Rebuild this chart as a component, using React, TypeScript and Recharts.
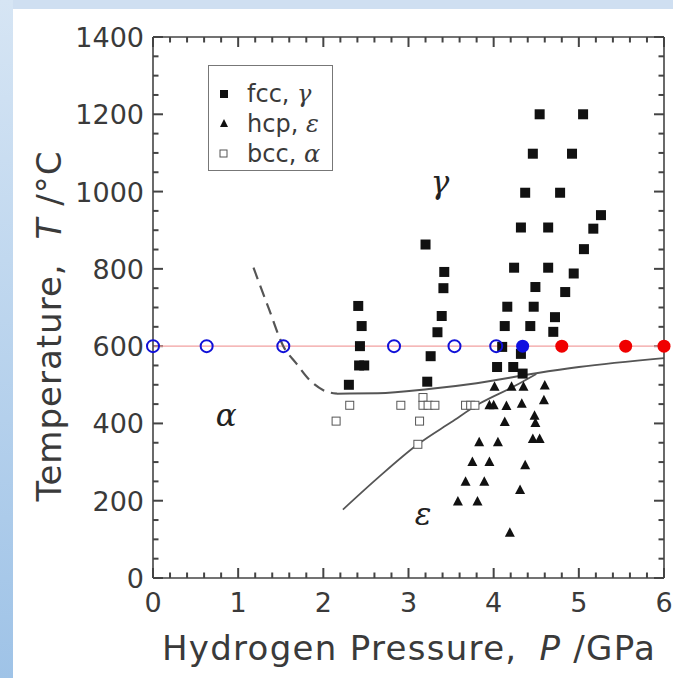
import React from 'react';
import { ComposedChart, XAxis, YAxis, Scatter, Line, ReferenceLine } from 'recharts';

// [P (GPa), T (°C)]
const fccData = [
  [2.30, 500], [2.42, 550], [2.48, 550], [2.43, 600], [2.45, 652], [2.41, 704],
  [3.22, 508], [3.26, 574], [3.34, 636], [3.39, 678], [3.41, 750], [3.42, 792], [3.20, 863],
  [4.04, 546], [4.23, 546], [4.10, 598], [4.32, 580], [4.34, 529], [4.13, 652], [4.16, 702],
  [4.43, 652], [4.47, 702], [4.49, 753], [4.24, 803], [4.64, 803], [4.32, 907], [4.64, 907],
  [4.70, 637], [4.72, 675], [4.84, 740], [4.94, 788], [5.06, 851], [5.17, 904], [5.26, 939],
  [4.37, 997], [4.78, 997], [4.46, 1098], [4.92, 1098], [4.54, 1200], [5.05, 1200],
];
const hcpData = [
  [4.01, 495], [4.21, 495], [4.35, 495], [4.60, 498],
  [3.95, 447], [4.00, 447], [4.15, 445], [4.33, 451], [4.59, 460],
  [4.48, 420], [4.49, 401], [4.13, 404],
  [3.83, 351], [4.05, 351], [4.46, 360], [4.54, 360],
  [3.75, 300], [3.95, 300], [4.37, 292],
  [3.67, 249], [3.89, 249], [4.31, 228],
  [3.58, 198], [3.81, 198], [4.19, 117],
];
const bccData = [
  [2.31, 447], [2.91, 447], [3.17, 467], [3.17, 447], [3.23, 447], [3.31, 447],
  [3.67, 447], [3.73, 447], [3.78, 447], [2.15, 406], [3.13, 406], [3.11, 346],
];
const openCircles = [[0.0, 600], [0.63, 600], [1.53, 600], [2.83, 600], [3.54, 600], [4.03, 600]];
const blueFilled = [[4.34, 600]];
const redFilled = [[4.80, 600], [5.55, 600], [6.0, 600]];

const dashedBoundary = [[1.18, 803], [1.36, 697], [1.53, 600], [1.68, 556], [1.84, 512], [2.0, 486], [2.16, 477]];
const upperBoundary = [[2.16, 477], [2.64, 478], [3.24, 489], [3.8, 504], [4.5, 530], [5.0, 546], [6.0, 569]];
const lowerBoundary = [[2.23, 177], [2.64, 259], [3.11, 346], [3.5, 403], [3.84, 452], [4.24, 496], [4.5, 528]];

const phaseLabels = [
  { x: 3.37, y: 1022, t: 'γ' },
  { x: 0.86, y: 420, t: 'α' },
  { x: 3.17, y: 163, t: 'ε' },
];

const xMajor = [0, 1, 2, 3, 4, 5, 6];
const yMajor = [0, 200, 400, 600, 800, 1000, 1200, 1400];
const xMinor = Array.from({ length: 31 }, (_, i) => Math.round(i * 2) / 10);
const yMinor = Array.from({ length: 29 }, (_, i) => i * 50);

const pts = (a: number[][]) => a.map(([x, y]) => ({ x, y }));
const isMajorX = (v: number) => Math.abs(v - Math.round(v)) < 1e-6;

// inward tick lengths, in axis units (plot is 511 px wide for 6 GPa, 541 px high for 1400 °C)
const TICK_X = 10 * 6 / 511;
const TICK_Y = 10 * 1400 / 541;

const FONT = '"DejaVu Sans", sans-serif';
const AXIS = '#444';
const TEXT = '#3a3a3a';

const BottomLabel = ({ x, y, payload }: any) => (
  <text x={x} y={y + 34} textAnchor="middle" fontSize={27} fontFamily={FONT} fill={TEXT}>
    {payload.value}
  </text>
);
const LeftLabel = ({ x, y, payload }: any) => (
  <text x={x - 9} y={y + 10} textAnchor="end" fontSize={27} fontFamily={FONT} fill={TEXT}>
    {payload.value}
  </text>
);

const FilledSquare = (p: any) => <rect x={p.cx - 5} y={p.cy - 5} width={10} height={10} fill="#111" />;
const OpenSquare = (p: any) => <rect x={p.cx - 4} y={p.cy - 4} width={8} height={8} fill="#fff" stroke="#555" strokeWidth={1} />;
const Triangle = (p: any) => (
  <polygon points={`${p.cx},${p.cy - 5.5} ${p.cx + 5},${p.cy + 4} ${p.cx - 5},${p.cy + 4}`} fill="#111" />
);
const BlueRing = (p: any) => <circle cx={p.cx} cy={p.cy} r={6} fill="none" stroke="#1010d8" strokeWidth={2} />;
const BlueDot = (p: any) => <circle cx={p.cx} cy={p.cy} r={6.5} fill="#1010e0" />;
const RedDot = (p: any) => <circle cx={p.cx} cy={p.cy} r={6.5} fill="#f00000" />;
const PhaseText = (p: any) => (
  <text x={p.cx} y={p.cy + 10} textAnchor="middle" fontSize={31} fontStyle="italic"
    fontFamily='"DejaVu Serif", serif' fill="#222">
    {p.payload.t}
  </text>
);

const YTitle = () => (
  <text transform="translate(61,326) rotate(-90)" textAnchor="middle" fontSize={34} fontFamily={FONT}
    fill={TEXT} letterSpacing={1}>
    Temperature,<tspan dx={24} fontStyle="italic">T</tspan><tspan dx={12}>/°C</tspan>
  </text>
);
const XTitle = () => (
  <text x={409} y={660} textAnchor="middle" fontSize={34} fontFamily={FONT} fill={TEXT} letterSpacing={1.3}>
    Hydrogen Pressure,<tspan dx={22} fontStyle="italic">P</tspan><tspan dx={12}>/GPa</tspan>
  </text>
);

const legendRows = [
  { mark: 'fill', label: 'fcc, ', greek: 'γ' },
  { mark: 'tri', label: 'hcp, ', greek: 'ε' },
  { mark: 'open', label: 'bcc, ', greek: 'α' },
];

function LegendBox() {
  return (
    <div style={{
      position: 'absolute', left: 208, top: 65, width: 125, height: 106, border: '1.5px solid #777',
      background: '#fff', fontFamily: FONT, fontSize: 24, color: TEXT, boxSizing: 'border-box', paddingTop: 13,
    }}>
      {legendRows.map((r) => (
        <div key={r.label} style={{ display: 'flex', alignItems: 'center', height: 30 }}>
          <svg width={38} height={30}>
            {r.mark === 'fill' && <rect x={11} y={11} width={8} height={8} fill="#111" />}
            {r.mark === 'tri' && <polygon points="15,10 19,18 11,18" fill="#111" />}
            {r.mark === 'open' && <rect x={11} y={11} width={7} height={7} fill="#fff" stroke="#555" />}
          </svg>
          <span>{r.label}<i style={{ fontFamily: '"DejaVu Serif", serif' }}>{r.greek}</i></span>
        </div>
      ))}
    </div>
  );
}

const tickStyle = { stroke: AXIS, strokeWidth: 2 };

export default function App() {
  const xTickLines = xMinor.flatMap((x) => {
    const k = isMajorX(x) ? 1 : 0.55;
    return [
      <ReferenceLine key={`b${x}`} segment={[{ x, y: 0 }, { x, y: TICK_Y * k }]} {...tickStyle} />,
      <ReferenceLine key={`t${x}`} segment={[{ x, y: 1400 }, { x, y: 1400 - TICK_Y * k }]} {...tickStyle} />,
    ];
  });
  const yTickLines = yMinor.flatMap((y) => {
    const k = y % 200 === 0 ? 1 : 0.55;
    return [
      <ReferenceLine key={`l${y}`} segment={[{ x: 0, y }, { x: TICK_X * k, y }]} {...tickStyle} />,
      <ReferenceLine key={`r${y}`} segment={[{ x: 6, y }, { x: 6 - TICK_X * k, y }]} {...tickStyle} />,
    ];
  });

  return (
    <div style={{ position: 'absolute', left: 0, top: 0, width: 673, height: 678, background: '#fff', overflow: 'hidden' }}>
      <div style={{ position: 'absolute', left: 0, top: 0, width: 673, height: 9, background: '#cfdff1' }} />
      <div style={{
        position: 'absolute', left: 0, top: 0, width: 13, height: 678,
        background: 'linear-gradient(#d6e5f4, #9fc3e7)',
      }} />
      <div style={{ position: 'absolute', left: 0, top: 0 }}>
        <ComposedChart width={673} height={678} margin={{ top: 36, right: 8, left: 0, bottom: 0 }}>
          <XAxis xAxisId={0} type="number" dataKey="x" domain={[0, 6]} ticks={xMajor} interval={0}
            height={100} tickSize={0} tickMargin={0} tick={<BottomLabel />} tickLine={false}
            axisLine={{ stroke: AXIS, strokeWidth: 1.6 }} />
          <XAxis xAxisId="top" orientation="top" type="number" dataKey="x" domain={[0, 6]} ticks={xMajor}
            height={1} tickSize={0} tick={false} tickLine={false} axisLine={{ stroke: AXIS, strokeWidth: 1.6 }} />
          <YAxis yAxisId={0} type="number" dataKey="y" domain={[0, 1400]} ticks={yMajor} interval={0}
            width={153} tickSize={0} tickMargin={0} tick={<LeftLabel />} tickLine={false}
            axisLine={{ stroke: AXIS, strokeWidth: 1.6 }} />
          <YAxis yAxisId="right" orientation="right" type="number" dataKey="y" domain={[0, 1400]} ticks={yMajor}
            width={1} tickSize={0} tick={false} tickLine={false} axisLine={{ stroke: AXIS, strokeWidth: 1.6 }} />

          {xTickLines}
          {yTickLines}

          <ReferenceLine y={600} stroke="#f2a0a0" strokeWidth={1.2} />

          <Line data={pts(dashedBoundary)} dataKey="y" type="monotone" stroke="#555" strokeWidth={2.2}
            strokeDasharray="12 7" dot={false} isAnimationActive={false} />
          <Line data={pts(upperBoundary)} dataKey="y" type="monotone" stroke="#555" strokeWidth={2}
            dot={false} isAnimationActive={false} />
          <Line data={pts(lowerBoundary)} dataKey="y" type="monotone" stroke="#555" strokeWidth={1.8}
            dot={false} isAnimationActive={false} />

          <Scatter data={pts(bccData)} shape={<OpenSquare />} isAnimationActive={false} />
          <Scatter data={pts(hcpData)} shape={<Triangle />} isAnimationActive={false} />
          <Scatter data={pts(fccData)} shape={<FilledSquare />} isAnimationActive={false} />
          <Scatter data={pts(openCircles)} shape={<BlueRing />} isAnimationActive={false} />
          <Scatter data={pts(blueFilled)} shape={<BlueDot />} isAnimationActive={false} />
          <Scatter data={pts(redFilled)} shape={<RedDot />} isAnimationActive={false} />
          <Scatter data={phaseLabels} shape={<PhaseText />} isAnimationActive={false} />
        </ComposedChart>
      </div>
      <svg width={673} height={678} style={{ position: 'absolute', left: 0, top: 0, pointerEvents: 'none' }}>
        <YTitle />
        <XTitle />
      </svg>
      <LegendBox />
    </div>
  );
}
